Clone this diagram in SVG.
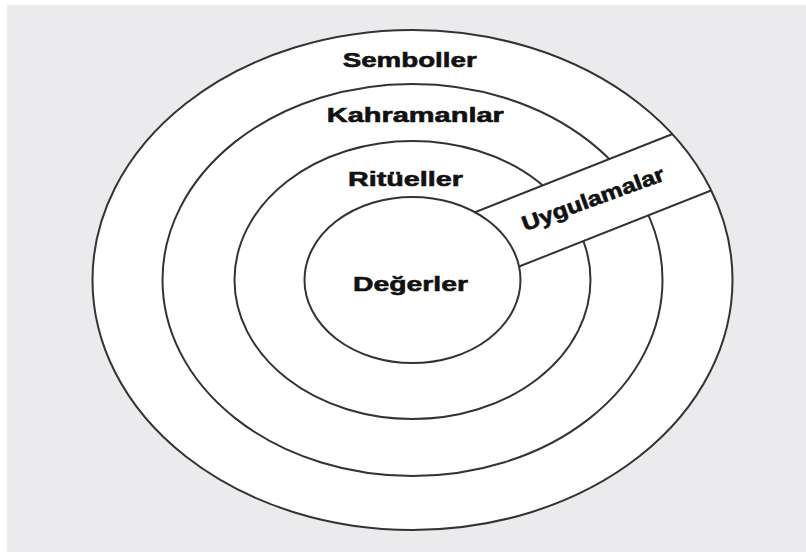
<svg xmlns="http://www.w3.org/2000/svg" width="806" height="552" viewBox="0 0 806 552">
<style>
.ring{fill:none;stroke:#333;stroke-width:2}
.core{fill:#ffffff;stroke:#333;stroke-width:2}
.lbl{font-family:"Liberation Sans",Arial,sans-serif;font-weight:bold;font-size:21px;fill:#111;stroke:#111;stroke-width:0.6;text-anchor:middle}
.band-line{stroke:#333;stroke-width:2;fill:none}
</style>
<defs>
<clipPath id="outerClip" clipPathUnits="userSpaceOnUse">
<ellipse cx="412.5" cy="280" rx="320" ry="250"/>
</clipPath>
</defs>
<rect x="0" y="0" width="806" height="552" fill="#ffffff"/>
<rect x="7" y="5" width="799" height="547" fill="#ebebed"/>
<g id="semboller">
<ellipse cx="412.5" cy="280" rx="320" ry="250" fill="#ffffff"/>
<text class="lbl" x="409.7" y="67" textLength="134" lengthAdjust="spacingAndGlyphs">Semboller</text>
</g>
<g id="kahramanlar">
<ellipse class="ring" cx="412.5" cy="280" rx="250" ry="196"/>
<text class="lbl" x="415.3" y="122" textLength="177" lengthAdjust="spacingAndGlyphs">Kahramanlar</text>
</g>
<g id="ritueller">
<ellipse class="ring" cx="412.5" cy="280" rx="178" ry="139"/>
<text class="lbl" x="405.5" y="186" textLength="115" lengthAdjust="spacingAndGlyphs">Ritüeller</text>
</g>
<g id="uygulamalar">
<g clip-path="url(#outerClip)">
<g transform="translate(412.5,280) rotate(-21.6)">
<rect x="0" y="-40" width="400" height="66.7" fill="#ffffff"/>
<line class="band-line" x1="0" y1="-40" x2="400" y2="-40"/>
<line class="band-line" x1="0" y1="26.7" x2="400" y2="26.7"/>
</g>
</g>
<text class="lbl" transform="translate(595.5,205.5) rotate(-20)" x="0" y="0" textLength="150" lengthAdjust="spacingAndGlyphs">Uygulamalar</text>
</g>
<g id="degerler">
<ellipse class="core" cx="412.5" cy="280" rx="108" ry="83"/>
<text class="lbl" x="410.5" y="291" textLength="115" lengthAdjust="spacingAndGlyphs">Değerler</text>
</g>
<g id="outline">
<ellipse class="ring" cx="412.5" cy="280" rx="320" ry="250"/>
</g>
</svg>
